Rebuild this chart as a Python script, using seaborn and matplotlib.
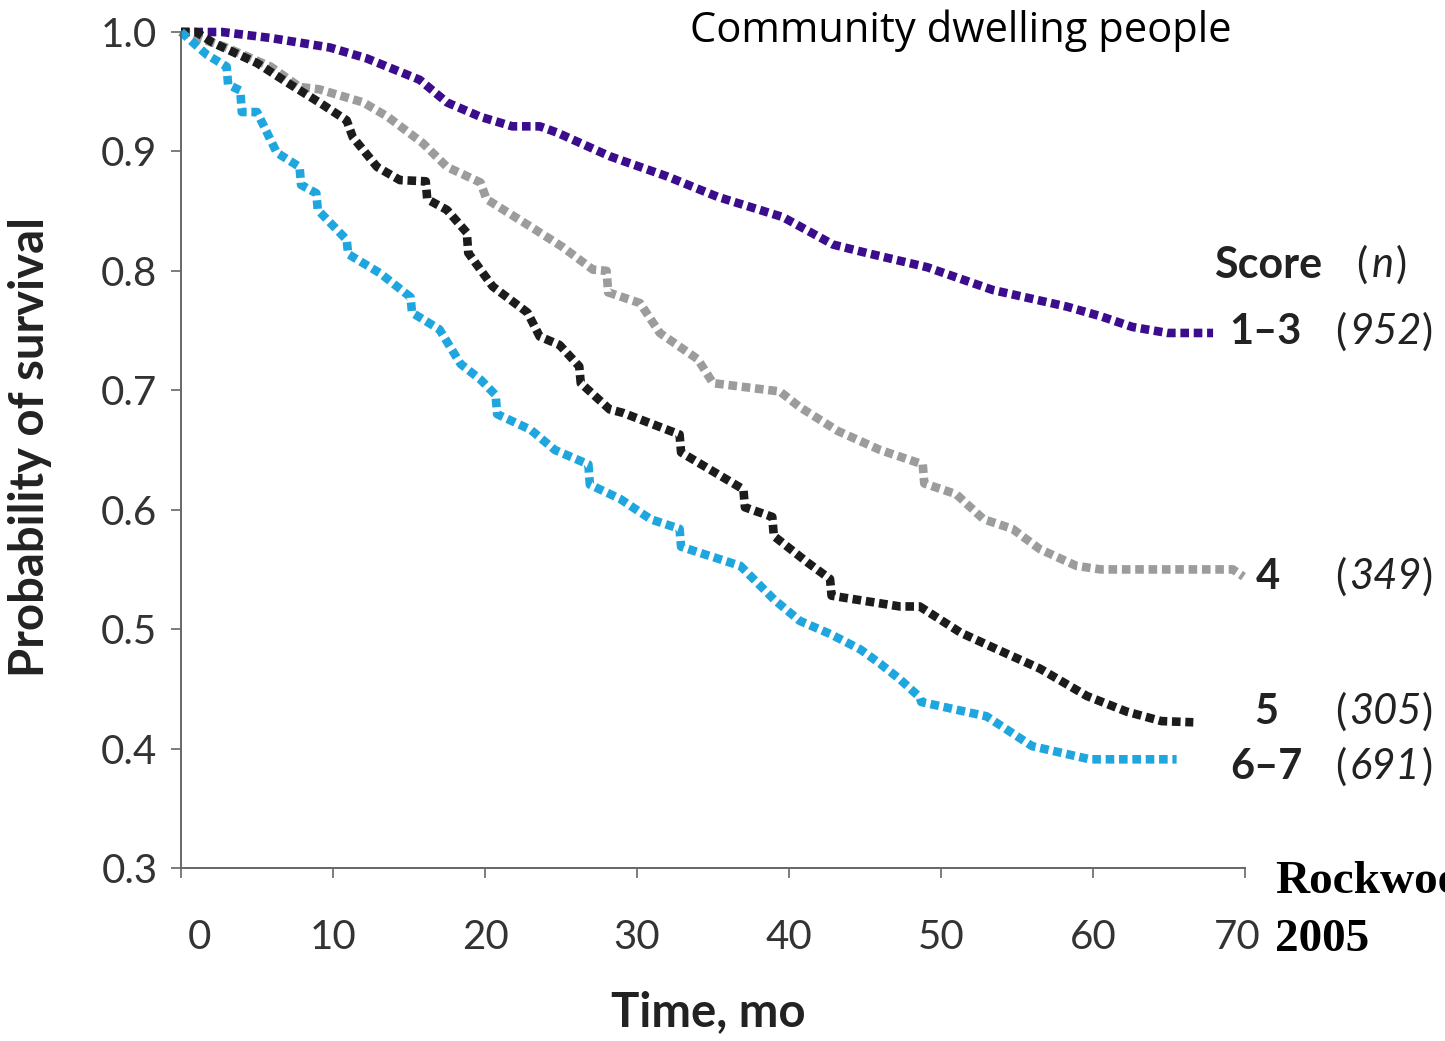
import numpy as np
import pandas as pd
import matplotlib
matplotlib.use("Agg")
import matplotlib.pyplot as plt
import matplotlib.transforms as mtransforms
import seaborn as sns

# ---- data ----
t_13 = [0, 2.7, 5.9, 9.8, 12.2, 15.7, 17.5, 19.7, 21.8, 23.6, 24.7, 28.2, 32, 35.3,
        39.6, 42.9, 45.1, 49.1, 53.4, 58.3, 60.5, 62.6, 64.9, 67.9]
s_13 = [1.0, 1.0, 0.995, 0.987, 0.978, 0.96, 0.941, 0.929, 0.921, 0.921, 0.916,
        0.896, 0.879, 0.862, 0.845, 0.822, 0.815, 0.803, 0.784, 0.77, 0.762, 0.753,
        0.748, 0.748]

t_4 = [0, 2.8, 5.9, 7.8, 9.1, 12, 13.6, 15.9, 17.5, 19.7, 20.1, 23, 25.1, 27.1, 28,
       28.1, 30.2, 31.5, 34, 35, 39.4, 40.7, 43.2, 46, 48.8, 48.9, 51, 52.8, 54.7,
       56.5, 58.9, 60.5, 69.2, 69.9]
s_4 = [1.0, 0.988, 0.971, 0.954, 0.952, 0.941, 0.929, 0.907, 0.887, 0.874, 0.86,
       0.837, 0.82, 0.801, 0.80, 0.782, 0.773, 0.748, 0.726, 0.706, 0.699, 0.686,
       0.666, 0.65, 0.638, 0.622, 0.613, 0.592, 0.584, 0.567, 0.553, 0.55, 0.55, 0.544]

t_5 = [0, 1, 2.1, 5, 7.2, 9.1, 10.9, 11.3, 12.9, 14.4, 16.1, 16.2, 17.5, 18.8, 18.9,
       20.5, 22.8, 23.6, 24.9, 26.2, 26.3, 28.2, 29.1, 32.8, 32.9, 37, 37.1, 38.9,
       39.0, 41.2, 42.7, 42.8, 47.3, 48.6, 51.3, 53.7, 56.5, 59.6, 62.2, 64.5, 66.6]
s_5 = [1.0, 1.0, 0.991, 0.974, 0.956, 0.941, 0.926, 0.912, 0.887, 0.876, 0.875,
       0.86, 0.851, 0.832, 0.815, 0.787, 0.765, 0.745, 0.738, 0.72, 0.706, 0.684,
       0.681, 0.663, 0.648, 0.617, 0.602, 0.594, 0.578, 0.556, 0.542, 0.528, 0.519,
       0.519, 0.497, 0.483, 0.467, 0.444, 0.431, 0.423, 0.422]

t_67 = [0, 1.7, 3.0, 3.1, 3.9, 4.0, 5, 6.3, 7.8, 7.9, 8.9, 9.0, 10.9, 11.0, 13.1,
        15.1, 15.2, 17, 18.4, 19.7, 20.7, 20.8, 23, 24.6, 26.8, 26.9, 28.9, 30.9,
        32.8, 32.9, 36.8, 39, 40.7, 42.7, 44.7, 46, 47.3, 48.6, 48.7, 53, 56, 59.8,
        65.5]
s_67 = [1.0, 0.981, 0.971, 0.956, 0.951, 0.933, 0.933, 0.899, 0.887, 0.872, 0.865,
        0.851, 0.826, 0.814, 0.798, 0.778, 0.765, 0.751, 0.722, 0.709, 0.696, 0.68,
        0.667, 0.65, 0.638, 0.621, 0.609, 0.592, 0.584, 0.569, 0.553, 0.525, 0.507,
        0.496, 0.483, 0.471, 0.458, 0.443, 0.439, 0.427, 0.402, 0.391, 0.391]

scores = ["1\u20133", "4", "5", "6\u20137"]
counts = ["952", "349", "305", "691"]
colors = ["#3b0c8c", "#9a9c9e", "#1c1c1c", "#1fa6df"]
x_ticks = [0, 10, 20, 30, 40, 50, 60, 70]
y_ticks = [0.3, 0.4, 0.5, 0.6, 0.7, 0.8, 0.9, 1.0]

series = [(t_13, s_13), (t_4, s_4), (t_5, s_5), (t_67, s_67)]
frames = []
for name, (tt, ss) in zip(scores, series):
    frames.append(pd.DataFrame({"time": tt, "surv": ss, "score": name}))
df = pd.concat(frames, ignore_index=True)

# ---- plotting ----
sns.set_theme(style="white")
plt.rcParams["font.family"] = ["Lato", "DejaVu Sans"]

W, H = 1445, 1041
fig = plt.figure(figsize=(W / 100, H / 100), dpi=100)
ax = fig.add_axes([181 / W, 1 - 868 / H, (1245 - 181) / W, (868 - 32) / H])

for name, col in zip(scores, colors):
    sub = df[df["score"] == name]
    sns.lineplot(data=sub, x="time", y="surv", color=col, ax=ax,
                 estimator=None, sort=False, linewidth=6.2,
                 linestyle=(0, (1.0, 0.55)), dash_capstyle="butt",
                 solid_capstyle="butt", clip_on=False)

ax.set_xlim(0, 70)
ax.set_ylim(0.3, 1.0)
ax.set_xticks(x_ticks)
ax.set_yticks(y_ticks)
ax.set_yticklabels([f"{v:.1f}" for v in y_ticks])
ax.set_xticklabels([str(v) for v in x_ticks])
if ax.get_legend() is not None:
    ax.get_legend().remove()

for side in ["top", "right"]:
    ax.spines[side].set_visible(False)
for side in ["left", "bottom"]:
    ax.spines[side].set_color("#666666")
    ax.spines[side].set_linewidth(1.4)

ax.tick_params(axis="both", which="both", direction="out", length=7, width=1.2,
               color="#666666", labelcolor="#333333", labelsize=29)
ax.tick_params(axis="x", pad=30)
ax.tick_params(axis="y", pad=10)
ax.xaxis.set_ticks_position("bottom")
ax.yaxis.set_ticks_position("left")

# shift outermost x labels inward like the reference
labels = ax.get_xticklabels()
labels[0].set_transform(labels[0].get_transform() +
                        mtransforms.ScaledTranslation(18 / 100, 0, fig.dpi_scale_trans))
labels[-1].set_transform(labels[-1].get_transform() +
                         mtransforms.ScaledTranslation(-8 / 100, 0, fig.dpi_scale_trans))

ax.set_xlabel("Time, mo", fontsize=34, fontweight="bold", color="#222222", va="center")
ax.set_ylabel("Probability of survival", fontsize=34, fontweight="bold",
              color="#222222", va="center")
ax.xaxis.set_label_coords((708 - 181) / (1245 - 181), -(1012 - 868) / (868 - 32))
ax.yaxis.set_label_coords(-(181 - 30) / (1245 - 181), (868 - 447) / (868 - 32))

# ---- right-hand labels ----
def fx(px):
    return px / W

def fy(py):
    return 1 - py / H

txt_col = "#222222"
fs = 30
fig.text(fx(1322), fy(265), "Score", ha="right", va="center", fontsize=fs + 1,
         fontweight="bold", color=txt_col)
fig.text(fx(1356), fy(265), "(", ha="left", va="center", fontsize=fs, color=txt_col)
fig.text(fx(1372), fy(265), "n", ha="left", va="center", fontsize=fs,
         style="italic", color=txt_col)
fig.text(fx(1396), fy(265), ")", ha="left", va="center", fontsize=fs, color=txt_col)

label_y = [332, 577, 712, 767]
label_right = [1302, 1280, 1278, 1302]
for sc, n, yy, xr in zip(scores, counts, label_y, label_right):
    fig.text(fx(xr), fy(yy), sc, ha="right", va="center", fontsize=fs,
             fontweight="bold", color=txt_col)
    fig.text(fx(1335), fy(yy), "(", ha="left", va="center", fontsize=fs, color=txt_col)
    fig.text(fx(1349), fy(yy), n, ha="left", va="center", fontsize=fs,
             style="italic", color=txt_col)
    fig.text(fx(1422), fy(yy), ")", ha="left", va="center", fontsize=fs, color=txt_col)

fig.text(fx(690), fy(31), "Community dwelling people", ha="left", va="center",
         fontsize=30, color="black", family=["Open Sans", "DejaVu Sans"])

# the reference crops this note at the right edge of the picture
fig.text(fx(1275), fy(882), "Rockwood", ha="left", va="center", fontsize=34,
         fontweight="bold", color="black", family=["Liberation Serif", "DejaVu Serif"])
fig.text(fx(1275), fy(940), "2005", ha="left", va="center", fontsize=34,
         fontweight="bold", color="black", family=["Liberation Serif", "DejaVu Serif"])

fig.savefig("out.png", dpi=100, facecolor="white")
